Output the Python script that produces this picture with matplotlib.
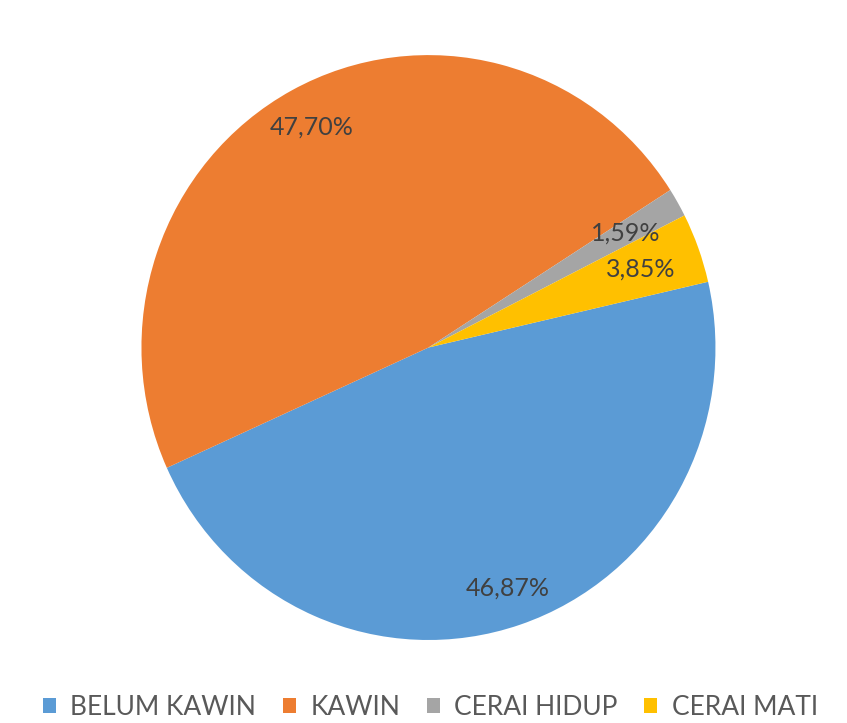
import numpy as np
import matplotlib
matplotlib.use("Agg")
import matplotlib.pyplot as plt
from matplotlib.patches import Patch

categories = ["BELUM KAWIN", "KAWIN", "CERAI HIDUP", "CERAI MATI"]
values = [46.87, 47.70, 1.59, 3.85]
labels = ["46,87%", "47,70%", "1,59%", "3,85%"]
colors = ["#5B9BD5", "#ED7D31", "#A5A5A5", "#FFC000"]
label_dist = [0.869, 0.856, 0.79, 0.788]

plt.rcParams['font.family'] = ['Lato', 'DejaVu Sans']

fig = plt.figure(figsize=(8.47, 7.23), dpi=100)
ax = fig.add_axes([0.167, 0.1148, 0.6777, 0.809])
wedges, _ = ax.pie(values, colors=colors, startangle=13, counterclock=False,
                   radius=1.0, wedgeprops=dict(linewidth=0))
ax.set_xlim(-1.0, 1.0)
ax.set_ylim(-1.0, 1.0)
ax.set_aspect('auto')
ax.axis('off')

for w, lab, d in zip(wedges, labels, label_dist):
    ang = np.deg2rad((w.theta1 + w.theta2) / 2)
    ax.text(d * np.cos(ang), d * np.sin(ang), lab, ha='center', va='center',
            fontsize=18, color='#404040')

handles = [Patch(facecolor=c, edgecolor='none') for c in colors]
fig.legend(handles, categories, loc='center', bbox_to_anchor=(0.508, 0.022),
           ncol=4, frameon=False, fontsize=19, labelcolor='#595959',
           handlelength=0.5, handleheight=0.5, handletextpad=0.55,
           columnspacing=1.0, borderpad=0, borderaxespad=0)

fig.savefig("out.png", dpi=100, facecolor='white')
